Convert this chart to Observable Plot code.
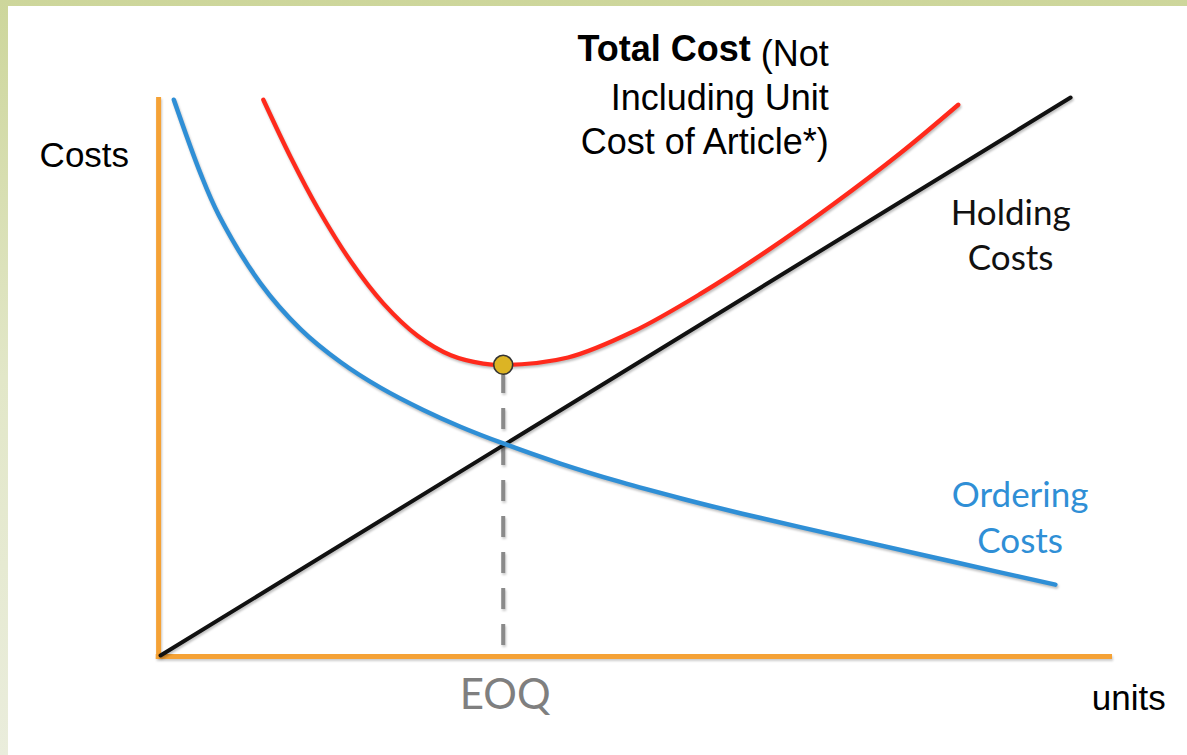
<!DOCTYPE html>
<html>
<head>
<meta charset="utf-8">
<script src="https://cdn.jsdelivr.net/npm/d3@7"></script>
<script src="https://cdn.jsdelivr.net/npm/@observablehq/plot@0.6"></script>
<style>
  html, body { margin: 0; padding: 0; }
  #frame { position: relative; width: 1187px; height: 755px; overflow: hidden;
           background: linear-gradient(to bottom, #cdd69b, #e2e7c8 50%, #eaeddc); }
  #paper { position: absolute; left: 8px; top: 6px; right: 0; bottom: 0; background: #fff; }
  #chart { position: absolute; left: 0; top: 0; }
  #chart svg g[aria-label="line"] { filter: drop-shadow(1px 2px 1.2px rgba(0,0,0,0.25)); }
  #chart svg g[aria-label="rule"] { filter: drop-shadow(1px 2px 1.2px rgba(0,0,0,0.2)); }
</style>
</head>
<body>
<div id="frame"><div id="paper"></div><div id="chart"></div></div>
<script>
// ---- data (units on x, costs on y, both 0..100) ----
const orderingX = [1.4, 4.2, 6.1, 10.5, 14.7, 18.9, 23.1, 27.6, 31.5, 36.0, 42.0, 48.3, 54.8, 60.9, 67.2, 73.9, 80.9, 88.2, 94.0];
const orderingY = [99.6, 86.4, 79.0, 66.7, 58.5, 52.6, 48.0, 44.0, 41.0, 38.0, 34.4, 31.1, 28.1, 25.5, 23.0, 20.4, 17.7, 14.9, 12.7];

const totalX = [10.8, 13.7, 16.5, 20.0, 23.4, 27.0, 30.5, 33.9, 36.0, 42.8, 49.7, 56.7, 63.8, 70.7, 77.7, 83.8];
const totalY = [99.6, 89.2, 80.2, 70.6, 63.1, 57.3, 53.8, 52.3, 52.05, 53.4, 58.1, 64.8, 72.6, 80.9, 90.0, 98.7];

const holdingX = [0, 95.6];
const holdingY = [0, 100];

const eoqX = [36.0];
const eoqY = [52.1];

const axisLabels = ["Costs", "units"];
const eoqLabel = ["EOQ"];
const holdingLabel = ["Holding\nCosts"];
const orderingLabel = ["Ordering\nCosts"];
const totalLabelBold = ["Total Cost"];
const totalLabelRest = ["(Not\nIncluding Unit\nCost of Article*)"];

const toRows = (xs, ys) => xs.map((x, i) => ({x, y: ys[i]}));

const ORANGE = "#f5a236";
const BLUE = "#2f8fd6";
const RED = "#ff2a1c";
const ARIAL = "'Liberation Sans', Arial, sans-serif";
const CALIBRI = "Lato, 'Open Sans', sans-serif";

const chart = Plot.plot({
  width: 1187,
  height: 755,
  marginLeft: 160,
  marginRight: 75,
  marginTop: 97,
  marginBottom: 100,
  x: {domain: [0, 100], axis: null},
  y: {domain: [0, 100], axis: null},
  style: {background: "transparent", overflow: "visible"},
  marks: [
    // axes
    Plot.ruleX([0], {x: d => d - 0.2, y1: -0.2, y2: 100, stroke: ORANGE, strokeWidth: 5}),
    Plot.ruleY([0], {y: d => d - 0.2, x1: -0.45, x2: 100, stroke: ORANGE, strokeWidth: 5}),
    // EOQ dashed drop line
    Plot.ruleX(eoqX, {x: d => d, y1: 1.8, y2: 50.3, stroke: "#8a8a8a", strokeWidth: 4, strokeDasharray: "21,15"}),
    // curves
    Plot.line(toRows(holdingX, holdingY), {x: "x", y: "y", stroke: "#111", strokeWidth: 4}),
    Plot.line(toRows(orderingX, orderingY), {x: "x", y: "y", stroke: BLUE, strokeWidth: 4.5, curve: "catmull-rom"}),
    Plot.line(toRows(totalX, totalY), {x: "x", y: "y", stroke: RED, strokeWidth: 4.3, curve: "catmull-rom"}),
    // optimum point
    Plot.dot(toRows(eoqX, eoqY), {x: "x", y: "y", r: 9.5, fill: "#dcb424", stroke: "#333", strokeWidth: 1.6}),
    // texts
    Plot.text([axisLabels[0]], {x: -8.0, y: 89.6, text: d => d, fontFamily: ARIAL, fontSize: 35, fill: "#000", lineAnchor: "middle", textAnchor: "middle"}),
    Plot.text([axisLabels[1]], {x: 101.7, y: -7.7, text: d => d, fontFamily: ARIAL, fontSize: 35, fill: "#000", lineAnchor: "middle", textAnchor: "middle"}),
    Plot.text(eoqLabel, {x: 36.2, y: -7.2, text: d => d, fontFamily: CALIBRI, fontSize: 42, fill: "#7f7f7f", lineAnchor: "middle", textAnchor: "middle"}),
    Plot.text(holdingLabel, {x: 89.3, y: 75.7, text: d => d, fontFamily: CALIBRI, fontSize: 35, lineHeight: 1.3, fill: "#111", lineAnchor: "middle", textAnchor: "middle"}),
    Plot.text(orderingLabel, {x: 90.3, y: 25.1, text: d => d, fontFamily: CALIBRI, fontSize: 35, lineHeight: 1.3, fill: BLUE, lineAnchor: "middle", textAnchor: "middle"}),
    Plot.text(totalLabelBold, {x: 70.2, y: 111.2, dx: -78, text: d => d, fontFamily: ARIAL, fontSize: 36, fontWeight: "bold", fill: "#000", lineAnchor: "top", textAnchor: "end"}),
    Plot.text(totalLabelRest, {x: 70.2, y: 111.2, text: d => d, fontFamily: ARIAL, fontSize: 36, lineHeight: 1.22, fill: "#000", lineAnchor: "top", textAnchor: "end"})
  ]
});
document.getElementById("chart").appendChild(chart);
</script>
</body>
</html>
